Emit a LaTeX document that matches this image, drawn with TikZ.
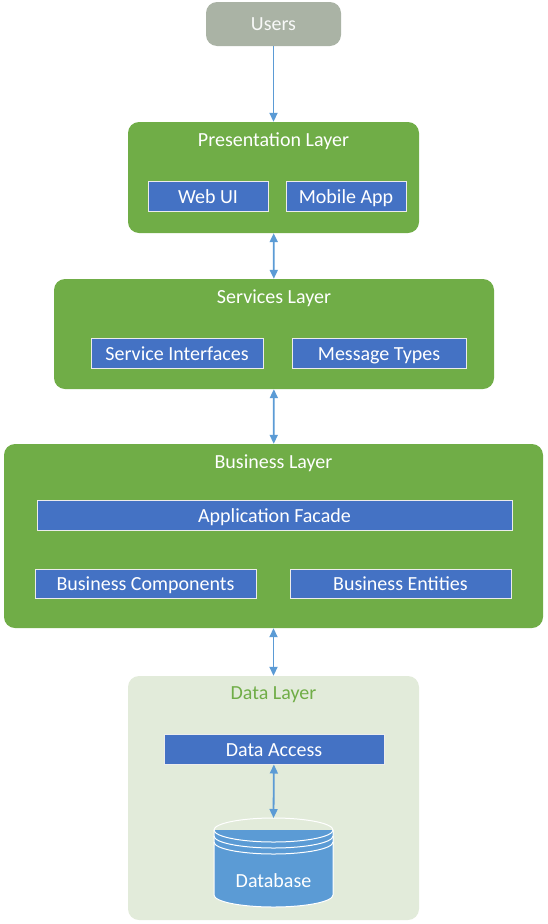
\documentclass[tikz,border=0pt]{standalone}
\usepackage{fontspec}
\setmainfont{Carlito}
\usepackage{xcolor}
\usetikzlibrary{calc, arrows.meta, positioning}

\definecolor{layergreen}{HTML}{70AD47}
\definecolor{datagreen}{HTML}{E2EBDA}
\definecolor{usergray}{HTML}{AAB3A5}
\definecolor{compblue}{HTML}{4472C4}
\definecolor{linkblue}{HTML}{5B9BD5}

\begin{document}
\begin{tikzpicture}[x=1pt, y=1pt, font=\fontsize{20}{23}\selectfont]
		\tikzstyle{layer} = [draw=none, fill=layergreen, rounded corners=11pt, inner sep=0pt]
		\tikzstyle{comp} = [draw=white!85!gray, line width=1pt, fill=compblue, text=white, inner sep=0pt, minimum height=30pt, text height=16pt, text depth=2pt]
		\tikzstyle{title} = [draw=none, text=white, inner sep=0pt, text height=15pt, text depth=2pt]
		\tikzstyle{link} = [line width=1.8pt, draw=linkblue, arrows={-Triangle[length=9pt, width=8pt]}]
		\tikzstyle{dlink} = [line width=1.8pt, draw=linkblue, arrows={Triangle[length=9pt, width=8pt]-Triangle[length=9pt, width=8pt]}]
		
		\useasboundingbox (0,0) rectangle (548,-924);
		
		% users
		\node[layer, fill=usergray, text=white!92!usergray, minimum width=135pt, minimum height=44pt] at (273.5,-24) (users) {Users};
		
		% presentation layer
		\node[layer, minimum width=291pt, minimum height=111pt] at (273.5,-177.5) (pres) {};
		\node[title] at (273.5,-140) (prestitle) {Presentation Layer};
		\node[comp, minimum width=120pt] at (208,-196) (webui) {Web UI};
		\node[comp, minimum width=120pt] at (346,-196) (mobile) {Mobile App};
		
		% services layer
		\node[layer, minimum width=440pt, minimum height=110pt] at (274,-334) (serv) {};
		\node[title] at (274,-297) (servtitle) {Services Layer};
		\node[comp, minimum width=172pt] at (177,-353) (servif) {Service Interfaces};
		\node[comp, minimum width=174pt] at (379,-353) (msgtypes) {Message Types};
		
		% business layer
		\node[layer, minimum width=539pt, minimum height=184pt] at (273.5,-536) (bus) {};
		\node[title] at (273.5,-462) (bustitle) {Business Layer};
		\node[comp, minimum width=475pt] at (274.5,-515) (facade) {Application Facade};
		\node[comp, minimum width=221pt, minimum height=29pt] at (145.5,-583.5) (buscomp) {Business Components};
		\node[comp, minimum width=221pt, minimum height=29pt] at (400.5,-583.5) (busent) {Business Entities};
		
		% data layer
		\node[layer, fill=datagreen, minimum width=291pt, minimum height=244pt] at (273.5,-798) (data) {};
		\node[title, text=layergreen] at (273.5,-693) (datatitle) {Data Layer};
		\node[comp, minimum width=220pt] at (274,-749) (access) {Data Access};
		
		% database
		\fill[linkblue] (214,-830) rectangle (333,-895);
		\fill[linkblue] (273.5,-895) ellipse [x radius=59.5, y radius=12];
		\draw[white, line width=1pt] (273.5,-830) ellipse [x radius=59.5, y radius=12];
		\draw[white, line width=1pt] (214,-830) -- (214,-895) arc [start angle=180, end angle=360, x radius=59.5, y radius=12] -- (333,-830);
		\draw[white, line width=1pt] (333,-836) arc [start angle=0, end angle=-180, x radius=59.5, y radius=12];
		\draw[white, line width=1pt] (333,-842) arc [start angle=0, end angle=-180, x radius=59.5, y radius=12];
		\node[title] at (273.5,-881) (db) {Database};
		\coordinate (dbtop) at (273.5,-818);
		
		\path[link] (users) -- (pres);
		\path[dlink] (pres) -- (serv);
		\path[dlink] (serv) -- (bus);
		\path[dlink] (bus) -- (data);
		\path[dlink] (access) -- (dbtop);
	\end{tikzpicture}
\end{document}
